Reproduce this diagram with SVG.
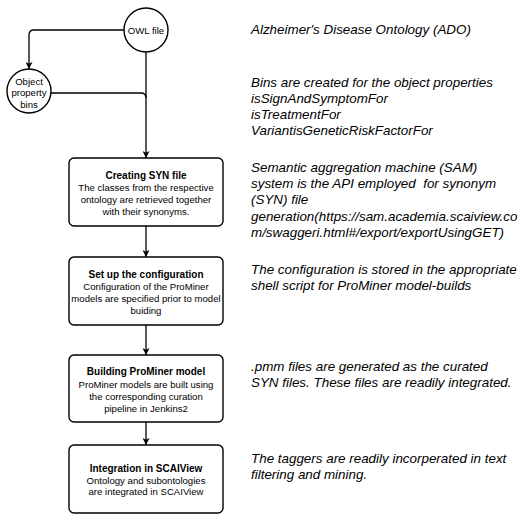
<svg xmlns="http://www.w3.org/2000/svg" width="520" height="519" viewBox="0 0 520 519">
<style>
.node{fill:#fff;stroke:#000;stroke-width:1.4}
.c{fill:none;stroke:#000;stroke-width:1.3}
.t{font-family:"Liberation Sans",Arial,sans-serif;font-size:9.6px;fill:#000;text-anchor:middle}
.b{font-weight:bold;font-size:10px}
.n{font-family:"Liberation Sans",Arial,sans-serif;font-size:13.4px;font-style:italic;fill:#000}
</style>
<defs>
<marker id="ah" viewBox="0 0 10 10" refX="10" refY="5" markerWidth="7" markerHeight="7" markerUnits="userSpaceOnUse" orient="auto">
<path d="M0,0 L10,5 L0,10 L2.5,5 z" fill="#000"/>
</marker>
</defs>
<rect width="520" height="519" fill="#fff"/>
<g id="connectors">
<path class="c" d="M124,30 H34 Q29,30 29,35 V69" marker-end="url(#ah)"/>
<path class="c" d="M146,52 V158" marker-end="url(#ah)"/>
<path class="c" d="M51,93 H141 Q146,93 146,98"/>
<path class="c" d="M146,226 V257" marker-end="url(#ah)"/>
<path class="c" d="M146,325 V355" marker-end="url(#ah)"/>
<path class="c" d="M146,422 V445" marker-end="url(#ah)"/>
</g>
<g id="owl">
<circle class="node" cx="146" cy="30" r="22"/>
<text class="t" x="146" y="33.5">OWL file</text>
</g>
<g id="bins">
<circle class="node" cx="29" cy="91" r="22"/>
<text class="t" x="29" y="84.5">Object</text>
<text class="t" x="29" y="96">property</text>
<text class="t" x="29" y="107.5">bins</text>
</g>
<g id="syn">
<rect class="node" x="69" y="158" width="154" height="68" rx="5"/>
<text class="t b" x="146" y="178.5">Creating SYN file</text>
<text class="t" x="146" y="191">The classes from the respective</text>
<text class="t" x="146" y="203">ontology are retrieved together</text>
<text class="t" x="146" y="215">with their synonyms.</text>
</g>
<g id="config">
<rect class="node" x="69" y="257" width="154" height="68" rx="5"/>
<text class="t b" x="146" y="277.5">Set up the configuration</text>
<text class="t" x="146" y="290">Configuration of the ProMiner</text>
<text class="t" x="146" y="302">models are specified prior to model</text>
<text class="t" x="146" y="314">buiding</text>
</g>
<g id="building">
<rect class="node" x="69" y="355" width="154" height="67" rx="5"/>
<text class="t b" x="146" y="375">Building ProMiner model</text>
<text class="t" x="146" y="387.5">ProMiner models are built using</text>
<text class="t" x="146" y="399.5">the corresponding curation</text>
<text class="t" x="146" y="411.5">pipeline in Jenkins2</text>
</g>
<g id="integration">
<rect class="node" x="69" y="445" width="154" height="68" rx="5"/>
<text class="t b" x="146" y="471.5">Integration in SCAIView</text>
<text class="t" x="146" y="483.5">Ontology and subontologies</text>
<text class="t" x="146" y="495">are integrated in SCAIView</text>
</g>
<g id="notes">
<text class="n" x="251" y="34">Alzheimer's Disease Ontology (ADO)</text>
<text class="n" x="251" y="87">Bins are created for the object properties</text>
<text class="n" x="251" y="103">isSignAndSymptomFor</text>
<text class="n" x="251" y="119">isTreatmentFor</text>
<text class="n" x="251" y="135">VariantisGeneticRiskFactorFor</text>
<text class="n" x="251" y="172">Semantic aggregation machine (SAM)</text>
<text class="n" x="251" y="188" xml:space="preserve">system is the API employed  for synonym</text>
<text class="n" x="251" y="204">(SYN) file</text>
<text class="n" x="251" y="221">generation(https://sam.academia.scaiview.co</text>
<text class="n" x="251" y="237">m/swaggeri.html#/export/exportUsingGET)</text>
<text class="n" x="251" y="274">The configuration is stored in the appropriate</text>
<text class="n" x="251" y="290">shell script for ProMiner model-builds</text>
<text class="n" x="251" y="371">.pmm files are generated as the curated</text>
<text class="n" x="251" y="387">SYN files. These files are readily integrated.</text>
<text class="n" x="251" y="463">The taggers are readily incorperated in text</text>
<text class="n" x="251" y="479">filtering and mining.</text>
</g>
</svg>
